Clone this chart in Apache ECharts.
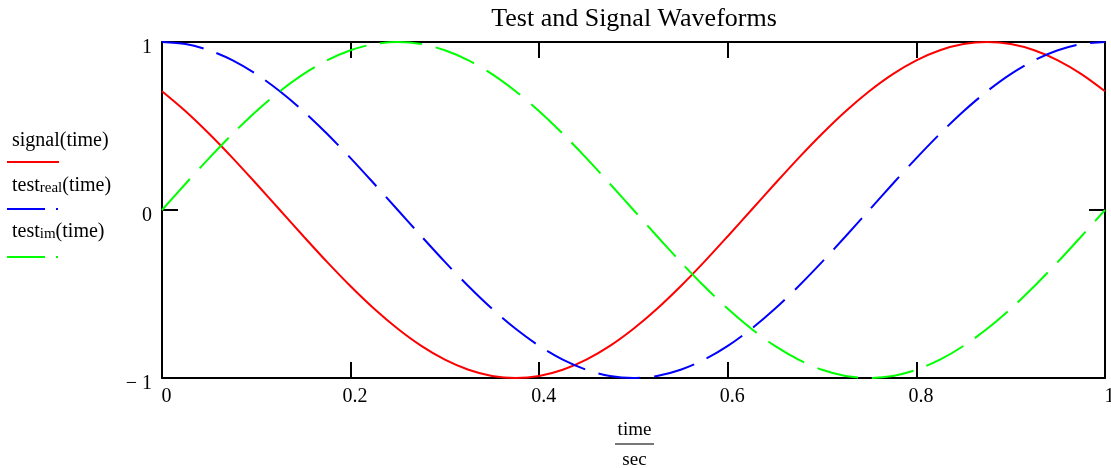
<!DOCTYPE html>
<html>
<head>
<meta charset="utf-8">
<script src="https://cdn.jsdelivr.net/npm/echarts@6/dist/echarts.min.js"></script>
<style>html,body{margin:0;padding:0;background:#fff}#c{width:1111px;height:468px}</style>
</head>
<body>
<div id="c"></div>
<script>
// time samples (sec)
const time = [0,0.025,0.05,0.075,0.1,0.125,0.15,0.175,0.2,0.225,0.25,0.275,0.3,0.325,0.35,0.375,0.4,0.425,0.45,0.475,0.5,0.525,0.55,0.575,0.6,0.625,0.65,0.675,0.7,0.725,0.75,0.775,0.8,0.825,0.85,0.875,0.9,0.925,0.95,0.975,1];
const signal = [0.707,0.588,0.454,0.309,0.156,0,-0.156,-0.309,-0.454,-0.588,-0.707,-0.809,-0.891,-0.951,-0.988,-1,-0.988,-0.951,-0.891,-0.809,-0.707,-0.588,-0.454,-0.309,-0.156,0,0.156,0.309,0.454,0.588,0.707,0.809,0.891,0.951,0.988,1,0.988,0.951,0.891,0.809,0.707];
const testReal = [1,0.988,0.951,0.891,0.809,0.707,0.588,0.454,0.309,0.156,0,-0.156,-0.309,-0.454,-0.588,-0.707,-0.809,-0.891,-0.951,-0.988,-1,-0.988,-0.951,-0.891,-0.809,-0.707,-0.588,-0.454,-0.309,-0.156,0,0.156,0.309,0.454,0.588,0.707,0.809,0.891,0.951,0.988,1];
const testIm = [0,0.156,0.309,0.454,0.588,0.707,0.809,0.891,0.951,0.988,1,0.988,0.951,0.891,0.809,0.707,0.588,0.454,0.309,0.156,0,-0.156,-0.309,-0.454,-0.588,-0.707,-0.809,-0.891,-0.951,-0.988,-1,-0.988,-0.951,-0.891,-0.809,-0.707,-0.588,-0.454,-0.309,-0.156,0];
const xTicks = ['0','0.2','0.4','0.6','0.8','1'];
const yTicks = {'-1':'\u2212 1','0':'0','1':'1'};
const titleText = 'Test and Signal Waveforms';

const serif = '"Liberation Serif", "DejaVu Serif", serif';
const pairs = arr => time.map((t,i)=>[t,arr[i]]);

const chart = echarts.init(document.getElementById('c'), null, {renderer:'canvas'});
const axisCommon = {
  axisLine:{show:true, onZero:false, lineStyle:{color:'#000', width:2}},
  axisTick:{show:true, inside:true, length:16, lineStyle:{color:'#000', width:2}},
  splitLine:{show:false}
};
chart.setOption({
  animation:false,
  backgroundColor:'#fff',
  title:{text:titleText, left:629, top:1, textAlign:'center',
    textStyle:{fontFamily:serif, fontSize:26, fontWeight:'normal', color:'#000'}},
  grid:{left:162, top:42, width:943, height:336, containLabel:false, outerBoundsMode:'none'},
  xAxis:[
    Object.assign({}, axisCommon, {type:'value', position:'bottom', min:0, max:1, interval:0.2,
      axisLabel:{show:true, margin:9, color:'#000', fontFamily:serif, fontSize:20, padding:[0,0,0,9],
        formatter:v=>xTicks[Math.round(v*5)]}}),
    Object.assign({}, axisCommon, {type:'value', position:'top', min:0, max:1, interval:0.2,
      axisLabel:{show:false}})
  ],
  yAxis:[
    Object.assign({}, axisCommon, {type:'value', position:'left', min:-1, max:1, interval:1,
      axisLabel:{show:true, margin:10, color:'#000', fontFamily:serif, fontSize:20,
        verticalAlign:'top', lineHeight:11,
        formatter:v=>yTicks[String(v)]}}),
    Object.assign({}, axisCommon, {type:'value', position:'right', min:-1, max:1, interval:1,
      axisLabel:{show:false}})
  ],
  series:[
    {name:'signal(time)', type:'line', data:pairs(signal), smooth:0.3, showSymbol:false,
      lineStyle:{color:'#ff0000', width:2}, xAxisIndex:0, yAxisIndex:0},
    {name:'test_real(time)', type:'line', data:pairs(testReal), smooth:0.3, showSymbol:false,
      lineStyle:{color:'#0000ff', width:2, type:[42,14]}, xAxisIndex:0, yAxisIndex:0},
    {name:'test_im(time)', type:'line', data:pairs(testIm), smooth:0.3, showSymbol:false,
      lineStyle:{color:'#00ff00', width:2, type:[42,14]}, xAxisIndex:0, yAxisIndex:0}
  ],
  graphic:[
    {type:'text', left:12, top:131, style:{text:'signal(time)', font:'20px '+serif, fill:'#000'}},
    {type:'line', shape:{x1:7,y1:162,x2:59,y2:162}, style:{stroke:'#ff0000', lineWidth:2}},
    {type:'text', left:12, top:176, style:{text:'{n|test}{s|real}{n|(time)}', fill:'#000',
      rich:{n:{fontFamily:serif, fontSize:20, lineHeight:20, verticalAlign:'top', padding:[0,0,5,0]},
            s:{fontFamily:serif, fontSize:15, lineHeight:15, verticalAlign:'bottom'}}}},
    {type:'line', shape:{x1:7,y1:209,x2:45,y2:209}, style:{stroke:'#0000ff', lineWidth:2}},
    {type:'line', shape:{x1:56,y1:209,x2:58,y2:209}, style:{stroke:'#0000ff', lineWidth:2}},
    {type:'text', left:12, top:222, style:{text:'{n|test}{s|im}{n|(time)}', fill:'#000',
      rich:{n:{fontFamily:serif, fontSize:20, lineHeight:20, verticalAlign:'top', padding:[0,0,5,0]},
            s:{fontFamily:serif, fontSize:15, lineHeight:15, verticalAlign:'bottom'}}}},
    {type:'line', shape:{x1:7,y1:257,x2:45,y2:257}, style:{stroke:'#00ff00', lineWidth:2}},
    {type:'line', shape:{x1:56,y1:257,x2:58,y2:257}, style:{stroke:'#00ff00', lineWidth:2}},
    {type:'text', x:634.5, y:430, style:{text:'time', font:'19px '+serif, fill:'#000', align:'center', verticalAlign:'middle'}},
    {type:'line', shape:{x1:615,y1:444,x2:654,y2:444}, style:{stroke:'#777', lineWidth:2}},
    {type:'text', x:634.5, y:460, style:{text:'sec', font:'19px '+serif, fill:'#000', align:'center', verticalAlign:'middle'}}
  ]
});
</script>
</body>
</html>
